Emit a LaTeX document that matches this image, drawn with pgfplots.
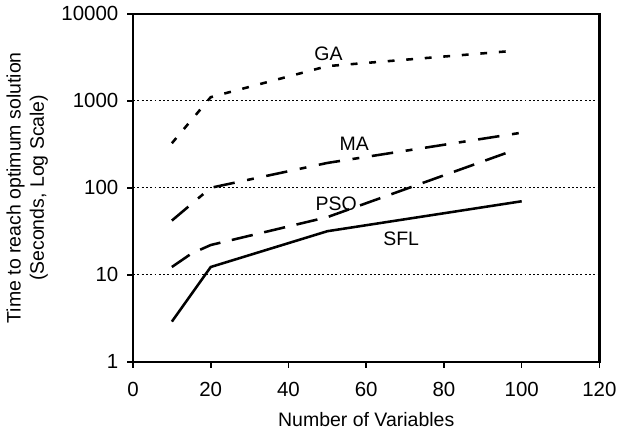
\documentclass[border=0pt]{standalone}
\usepackage{fontspec}
\setmainfont{Liberation Sans}
\usepackage{pgfplots}
\pgfplotsset{compat=1.18}
\begin{document}
\begin{tikzpicture}
\begin{axis}[
    scale only axis,
    width=238.5bp, height=178bp,
    xmin=0, xmax=120,
    ymode=log, ymin=1, ymax=10000,
    xtick={0,20,...,120},
    ytick={1,10,100,1000,10000},
    yticklabels={1,10,100,1000,10000},
    log basis y=10,
    minor y tick style={draw=none},
    tick align=outside,
    tick pos=left,
    major tick length=3bp,
    tick style={black, line width=0.8bp},
    axis line style={black, line width=1.1bp},
    ymajorgrids,
    grid style={black, line width=0.4bp, dash pattern=on 1bp off 1.2bp},
    /pgf/number format/assume math mode=true,
    /pgf/number format/1000 sep={},
    ticklabel style={font=\fontsize{10.5}{12}\selectfont},
    xticklabel style={yshift=-4bp},
    yticklabel style={xshift=-1bp},
    label style={font=\fontsize{10}{12}\selectfont},
    xlabel={Number of Variables},
    ylabel={Time to reach optimum solution\\(Seconds, Log Scale)},
    ylabel style={align=center},
    xlabel style={yshift=-1bp},
    clip=false,
]
% GA
\addplot[black, line width=1.3bp, dash pattern=on 3.5bp off 6bp] coordinates {(10,325) (20,1100) (50,2500) (98,3750)};
% MA
\addplot[black, line width=1.3bp, dash pattern=on 11bp off 6.5bp on 3.5bp off 6.5bp] coordinates {(10,42) (20,100) (50,193) (100,430)};
% PSO
\addplot[black, line width=1.3bp, dash pattern=on 11bp off 6bp] coordinates {(10,12.3) (15,17.5) (20,22) (50,46) (98,270)};
% SFL
\addplot[black, line width=1.3bp] coordinates {(10,2.9) (20,12.3) (50,31.7) (100,70)};
\node[font=\fontsize{10}{12}\selectfont] at (axis cs:50.3,3500) {GA};
\node[font=\fontsize{10}{12}\selectfont] at (axis cs:56.9,319) {MA};
\node[font=\fontsize{10}{12}\selectfont] at (axis cs:52.3,66) {PSO};
\node[font=\fontsize{10}{12}\selectfont] at (axis cs:69,26) {SFL};
\end{axis}
\end{tikzpicture}
\end{document}
